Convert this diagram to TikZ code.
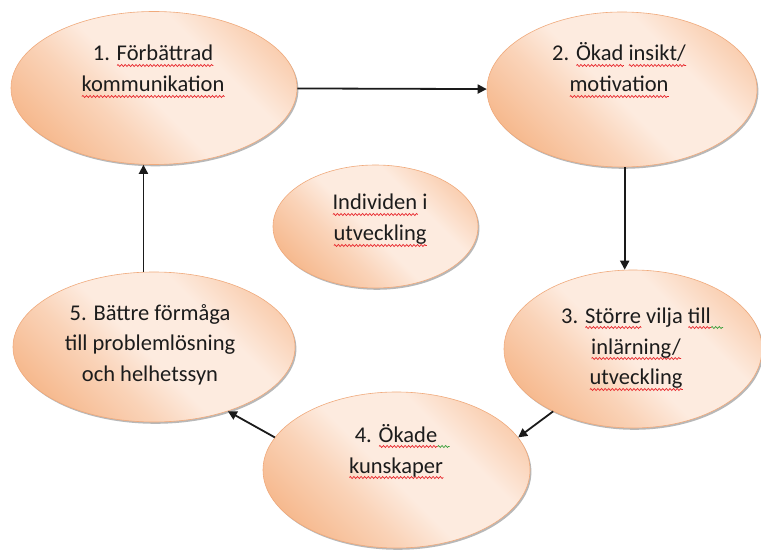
\documentclass[tikz,border=0pt]{standalone}
\usepackage{fontspec}
\setmainfont{Carlito}
\usetikzlibrary{shapes.geometric,arrows.meta,shadows,decorations.pathmorphing}
\definecolor{pin}{HTML}{FDEBDF}
\definecolor{pmid}{HTML}{FAD3B8}
\definecolor{pout}{HTML}{F6B98E}
\definecolor{pedge}{HTML}{F0AA7C}
\definecolor{txt}{HTML}{1C1C1C}
\definecolor{lin}{HTML}{1A1A1A}
\definecolor{sqred}{HTML}{E8262B}
\definecolor{sqgreen}{HTML}{3CA03C}
\pgfdeclarehorizontalshading{peach}{100bp}{color(0bp)=(pout); color(24bp)=(pout); color(38bp)=(pmid); color(48bp)=(pin); color(64bp)=(pin); color(74bp)=(pmid); color(86bp)=(pout); color(100bp)=(pout)}
\newsavebox\wvbox
\newlength\wvlen
\tikzset{
  squig/.style={line width=0.7pt, decorate, decoration={zigzag, amplitude=1pt, segment length=3.6pt}},
  bub/.style={ellipse, shade, shading=peach, shading angle=45, draw=pedge, line width=.6pt, inner sep=0pt,
    drop shadow={shadow xshift=1.4pt, shadow yshift=-1.8pt, fill=black, opacity=.28}},
  lbl/.style={align=center, font=\fontsize{22.5}{31}\selectfont, text=txt, inner sep=0pt, anchor=base},
  conn/.style={line width=1.8pt, draw=lin, -{Triangle[length=9pt,width=9pt]}}
}
\newcommand\wavy[2]{\sbox\wvbox{#2}\setlength\wvlen{\wd\wvbox}\leavevmode\rlap{\tikz[baseline=0pt]\draw[#1,squig] (0pt,-4.5pt) -- (\wvlen,-4.5pt);}\usebox\wvbox}
\newcommand\rw[1]{\wavy{sqred}{#1}}
\newcommand\gwafter{\rlap{\tikz[baseline=0pt]\draw[sqgreen,squig] (0pt,-4.5pt) -- (12pt,-4.5pt);}}
\begin{document}
\begin{tikzpicture}[x=1pt,y=-1pt]
\useasboundingbox[fill=white] (0,0) rectangle (761,553);
\node[bub, minimum width=286pt, minimum height=153pt] (e1) at (154,88) {};
\node[bub, minimum width=270pt, minimum height=155pt] (e2) at (622,89.5) {};
\node[bub, minimum width=205pt, minimum height=123pt] (ec) at (375.5,226.5) {};
\node[bub, minimum width=258pt, minimum height=158pt] (e3) at (633,349) {};
\node[bub, minimum width=282pt, minimum height=150pt] (e5) at (154,347) {};
\node[bub, minimum width=267pt, minimum height=156pt] (e4) at (396.5,470) {};

\node[lbl] (t1) at (153,92) {1. \rw{Förbättrad}\\\rw{kommunikation}};
\node[lbl] (t2) at (619,92) {2. \rw{Ökad} \rw{insikt/}\\\rw{motivation}};
\node[lbl] (tc) at (380,241) {\rw{Individen} i\\\rw{utveckling}};
\node[lbl] (t3) at (636,385) {3. \rw{Större} vilja \rw{till}\gwafter\\\rw{inlärning/}\\\rw{utveckling}};
\node[lbl] (t4) at (396,473) {4. \rw{Ökade}\gwafter\\\rw{kunskaper}};
\node[lbl] (t5) at (150,382) {5. Bättre förmåga\\till problemlösning\\och helhetssyn};

\draw[conn] (e1) -- (e2);
\draw[conn] (e2.-88) -- (e2.-88 |- e3.north);
\draw[conn] (e3.218) -- (e4.15);
\draw[conn] (e4.165) -- (e5.-41);
\draw[conn] (e5.98) -- (e5.98 |- e1.south);
\end{tikzpicture}
\end{document}
